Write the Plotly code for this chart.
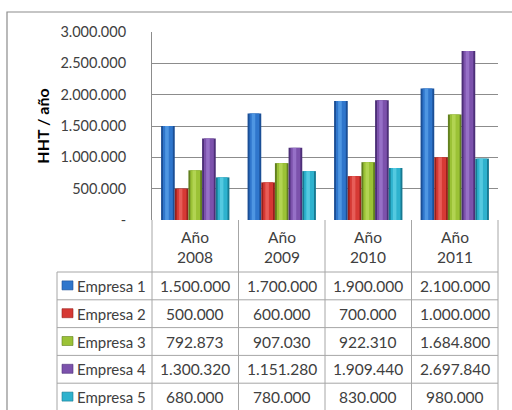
import plotly.graph_objects as go

# Data
years = ["2008", "2009", "2010", "2011"]
categories = ["Año<br>" + y for y in years]
companies = ["Empresa 1", "Empresa 2", "Empresa 3", "Empresa 4", "Empresa 5"]
empresa_1 = [1500000, 1700000, 1900000, 2100000]
empresa_2 = [500000, 600000, 700000, 1000000]
empresa_3 = [792873, 907030, 922310, 1684800]
empresa_4 = [1300320, 1151280, 1909440, 2697840]
empresa_5 = [680000, 780000, 830000, 980000]
series = [empresa_1, empresa_2, empresa_3, empresa_4, empresa_5]
colors = ["#2f76cc", "#d63934", "#9bc236", "#7c52ac", "#2eb2ce"]
edge_colors = ["#1b4f96", "#97201c", "#62801f", "#4d2f78", "#177a92"]
light_colors = ["#5aa2ea", "#ec6a64", "#bada5c", "#9f7bd0", "#62d0e6"]
y_ticks = [0, 500000, 1000000, 1500000, 2000000, 2500000, 3000000]

W, H = 512, 410
ML, MR, MT, MB = 152, 14, 32, 190
PW, PH = W - ML - MR, H - MT - MB
TEXT = "#404040"
FONT = "Lato"


def fmt(v):
    return f"{v:,}".replace(",", ".")


def px_x(p):
    return (p - ML) / PW


def px_y(p):
    return (H - MB - p) / PH


fig = go.Figure()

# grouped cylinders: darker rim, body colour, and a soft highlight stripe
group_w = 0.79
bar_w = group_w / len(series)
for k, (name, vals, col, edge, light) in enumerate(
        zip(companies, series, colors, edge_colors, light_colors)):
    left = -group_w / 2 + k * bar_w
    fig.add_trace(go.Bar(
        x=categories, y=vals, name=name, width=bar_w, offset=left,
        marker=dict(color=edge, line=dict(width=0)), showlegend=False,
    ))
    fig.add_trace(go.Bar(
        x=categories, y=vals, name=name, width=bar_w * 0.72,
        offset=left + bar_w * 0.14,
        marker=dict(color=col, line=dict(width=0)), showlegend=False,
        hoverinfo="skip",
    ))
    fig.add_trace(go.Bar(
        x=categories, y=vals, name=name, width=bar_w * 0.26,
        offset=left + bar_w * 0.30,
        marker=dict(color=light, opacity=0.75, line=dict(width=0)),
        showlegend=False, hoverinfo="skip",
    ))

shapes = []
annotations = []
line_col = "#a6a6a6"

# outer frame of the chart object
shapes.append(dict(type="rect", xref="paper", yref="paper",
                   x0=px_x(7), x1=px_x(520), y0=px_y(420), y1=px_y(12),
                   line=dict(color="#8c8c8c", width=1.2), fillcolor="rgba(0,0,0,0)"))

# data table geometry
header_top, header_bot = 220, 272
row_h = 27.8
rows_y = [header_bot + k * row_h for k in range(len(companies) + 1)]
legend_left = 57
n = len(categories)
col_edges = [px_x(ML) + k / n for k in range(n + 1)]

for yy in rows_y:
    shapes.append(dict(type="line", xref="paper", yref="paper",
                       x0=px_x(legend_left), x1=1, y0=px_y(yy), y1=px_y(yy),
                       line=dict(color=line_col, width=1)))
for xe in col_edges:
    shapes.append(dict(type="line", xref="paper", yref="paper",
                       x0=xe, x1=xe, y0=px_y(header_top), y1=px_y(rows_y[-1]),
                       line=dict(color=line_col, width=1)))
shapes.append(dict(type="line", xref="paper", yref="paper",
                   x0=px_x(legend_left), x1=px_x(legend_left),
                   y0=px_y(header_bot), y1=px_y(rows_y[-1]),
                   line=dict(color=line_col, width=1)))

# column headers
for c in categories:
    annotations.append(dict(x=c, xref="x", y=px_y((header_top + header_bot) / 2 + 1),
                            yref="paper", text=c, showarrow=False,
                            font=dict(family=FONT, size=15.5, color=TEXT),
                            xanchor="center", yanchor="middle"))

# table rows: legend key + name + values
for r, (name, vals, col, edge) in enumerate(zip(companies, series, colors, edge_colors)):
    yc = (rows_y[r] + rows_y[r + 1]) / 2
    shapes.append(dict(type="rect", xref="paper", yref="paper",
                       x0=px_x(62), x1=px_x(73), y0=px_y(yc + 4), y1=px_y(yc - 5),
                       fillcolor=col, line=dict(color=edge, width=0.6)))
    annotations.append(dict(x=px_x(75), xref="paper", y=px_y(yc), yref="paper",
                            text=name, showarrow=False, xanchor="left", yanchor="middle",
                            font=dict(family=FONT, size=15, color=TEXT)))
    for c, v in zip(categories, vals):
        annotations.append(dict(x=c, xref="x", y=px_y(yc), yref="paper",
                                text=fmt(v), showarrow=False,
                                xanchor="center", yanchor="middle",
                                font=dict(family=FONT, size=15.5, color=TEXT)))

fig.update_layout(
    width=W, height=H,
    margin=dict(l=ML, r=MR, t=MT, b=MB),
    paper_bgcolor="white", plot_bgcolor="white",
    barmode="overlay",
    shapes=shapes, annotations=annotations,
    font=dict(family=FONT, color=TEXT),
)
fig.update_xaxes(showticklabels=False, showgrid=False, zeroline=False,
                 showline=False, ticks="", range=[-0.5, 3.5])
fig.update_yaxes(
    range=[0, 3000000], tickvals=y_ticks,
    ticktext=["-" if v == 0 else fmt(v) for v in y_ticks],
    tickfont=dict(family=FONT, size=14.5, color=TEXT),
    showgrid=True, gridcolor="#8c8c8c", gridwidth=1,
    zeroline=False, showline=True, linecolor="#8c8c8c", linewidth=1,
    ticks="", ticklabelstandoff=22,
    title=dict(text="<b>HHT / año</b>", font=dict(family=FONT, size=16, color="#000000"),
               standoff=6),
)

fig.write_html("out.html")
